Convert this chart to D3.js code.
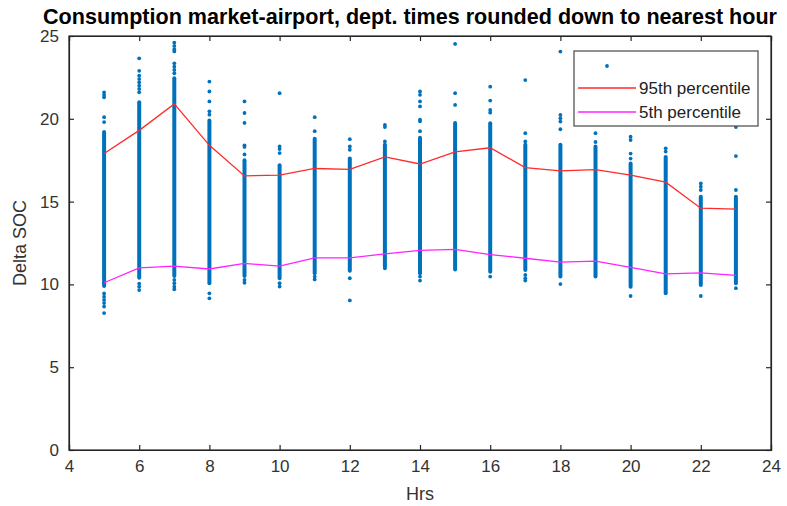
<!DOCTYPE html>
<html><head><meta charset="utf-8">
<script src="https://cdn.jsdelivr.net/npm/d3@7/dist/d3.min.js"></script>
<style>body{margin:0;background:#fff;} svg{display:block;font-family:"Liberation Sans",Arial,sans-serif;}</style>
</head><body>
<svg id="c" width="787" height="506"></svg>
<script>
const hours = [5,6,7,8,9,10,11,12,13,14,15,16,17,18,19,20,21,22,23];
const p95 = [17.9,19.3,20.9,18.4,16.55,16.6,17.0,16.95,17.7,17.27,18.0,18.25,17.05,16.85,16.93,16.6,16.17,14.6,14.54];
const p5 = [10.1,11.0,11.1,10.93,11.27,11.1,11.6,11.6,11.84,12.06,12.12,11.8,11.58,11.34,11.4,11.03,10.63,10.69,10.55];
const denseTop = [19.2,21.0,22.45,19.9,17.5,17.2,18.8,17.6,18.43,18.85,19.75,19.73,18.43,18.43,18.33,17.3,17.7,15.3,15.3];
const denseBottom = [9.9,10.4,10.5,10.07,10.5,10.37,10.67,10.83,11.07,10.67,10.9,10.77,10.87,10.47,10.47,9.86,9.46,9.96,10.07];
const sparsePoints = [
  [21.6,21.45,21.3,20.1,19.8,9.45,9.26,9.06,8.87,8.66,8.27],
  [23.65,22.9,22.6,22.4,22.2,22.0,21.8,21.6,10.05,9.86,9.66],
  [24.6,24.4,24.2,24.07,23.35,23.15,22.95,22.75,10.27,10.07,9.86,9.7],
  [22.25,21.65,21.05,20.45,20.25,9.46,9.16],
  [21.05,20.35,19.75,18.4,18.3,17.85,10.27,10.1],
  [21.55,18.33,18.17,17.93,10.07,9.87],
  [20.1,19.25,10.47,10.3],
  [18.77,18.33,18.13,10.37,9.03],
  [19.63,19.5,18.63,10.97],
  [21.65,21.45,21.05,20.75,19.95,19.85,19.25,10.47,10.23],
  [24.52,21.55,20.84],
  [21.94,21.1,20.53,20.37,10.47],
  [22.34,19.13,18.63,10.57,10.37,10.23],
  [24.06,20.23,20.03,19.83,19.37,10.02],
  [19.13,18.6],
  [18.92,18.72,17.9,17.6,9.3],
  [18.22,18.02],
  [16.1,15.9,15.7,9.3],
  [19.5,17.75,15.7,9.77]
];
const xTicks = [4,6,8,10,12,14,16,18,20,22,24];
const yTicks = [0,5,10,15,20,25];
const seriesNames = ["", "95th percentile", "5th percentile"];
const titleText = "Consumption market-airport, dept. times rounded down to nearest hour";

const svg = d3.select("#c");
const L=69, R=771, T=36, B=450;
const x = d3.scaleLinear().domain([4,24]).range([L,R]);
const y = d3.scaleLinear().domain([0,25]).range([B,T]);
const blue="#0072BD", axisCol="#262626", textCol="#333";

// scatter
const g = svg.append("g");
hours.forEach((h,i)=>{
  g.append("rect").attr("x",x(h)-2).attr("width",4)
   .attr("y",y(denseTop[i])-2).attr("height",y(denseBottom[i])-y(denseTop[i])+4)
   .attr("rx",2).attr("fill",blue);
  g.selectAll(null).data(sparsePoints[i]).enter().append("circle")
   .attr("cx",x(h)).attr("cy",d=>y(d)).attr("r",1.9).attr("fill",blue);
});

// lines
const line = d3.line().x((d,i)=>x(hours[i])).y(d=>y(d));
svg.append("path").attr("d",line(p95)).attr("fill","none").attr("stroke","#ff2a2a").attr("stroke-width",1.3);
svg.append("path").attr("d",line(p5)).attr("fill","none").attr("stroke","#ff22ff").attr("stroke-width",1.3);

// axes
const fs=17;
const ax = svg.append("g").attr("transform",`translate(0,${B})`).call(d3.axisBottom(x).tickValues(xTicks).tickSize(-5).tickPadding(10));
const axT = svg.append("g").attr("transform",`translate(0,${T})`).call(d3.axisTop(x).tickValues(xTicks).tickSize(-5).tickFormat(""));
const ay = svg.append("g").attr("transform",`translate(${L},0)`).call(d3.axisLeft(y).tickValues(yTicks).tickSize(-5).tickPadding(10));
const ayR = svg.append("g").attr("transform",`translate(${R},0)`).call(d3.axisRight(y).tickValues(yTicks).tickSize(-5).tickFormat(""));
[ax,axT,ay,ayR].forEach(a=>{
  a.select(".domain").attr("stroke",axisCol).attr("stroke-width",1.2);
  a.selectAll(".tick line").attr("stroke",axisCol).attr("stroke-width",1.2);
  a.selectAll("text").attr("fill",textCol).style("font-size",fs+"px").style("font-family","Liberation Sans, Arial, sans-serif");
});
svg.append("rect").attr("x",L).attr("y",T).attr("width",R-L).attr("height",B-T).attr("fill","none").attr("stroke",axisCol).attr("stroke-width",1.2);

// labels
svg.append("text").attr("x",(L+R)/2).attr("y",500).attr("text-anchor","middle").attr("fill",textCol).style("font-size","18px").text("Hrs");
svg.append("text").attr("transform",`translate(26,${(T+B)/2}) rotate(-90)`).attr("text-anchor","middle").attr("fill",textCol).style("font-size","18px").text("Delta SOC");
svg.append("text").attr("x",410).attr("y",24).attr("text-anchor","middle").attr("fill","#000")
  .attr("textLength",734).attr("lengthAdjust","spacingAndGlyphs")
  .style("font-size","21.5px").style("font-weight","bold").text(titleText);

// legend
const lg = svg.append("g");
lg.append("rect").attr("x",574).attr("y",51).attr("width",184).attr("height",75).attr("fill","#fff").attr("stroke","#555").attr("stroke-width",1.3);
lg.append("circle").attr("cx",607).attr("cy",66).attr("r",1.9).attr("fill",blue);
const legCols=["#ff2a2a","#ff22ff"];
[88,112].forEach((yy,k)=>{
  lg.append("line").attr("x1",578).attr("x2",636).attr("y1",yy).attr("y2",yy).attr("stroke",legCols[k]).attr("stroke-width",1.3);
  lg.append("text").attr("x",639).attr("y",yy+6).attr("fill","#222").style("font-size","17px").text(seriesNames[k+1]);
});
</script>
</body></html>
